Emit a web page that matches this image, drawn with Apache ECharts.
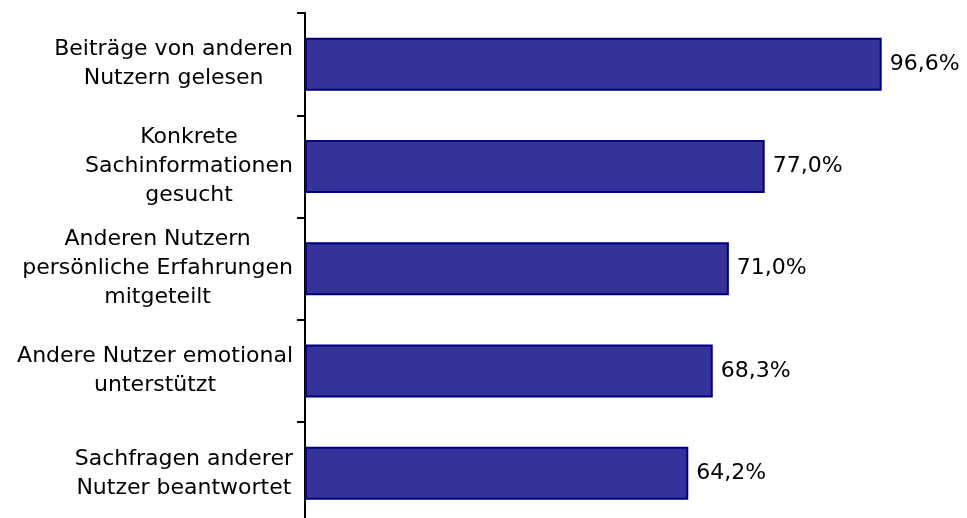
<!DOCTYPE html>
<html>
<head>
<meta charset="utf-8">
<script src="https://cdn.jsdelivr.net/npm/echarts@6/dist/echarts.min.js"></script>
<style>
html,body{margin:0;padding:0;background:#fff;}
#chart{width:967px;height:518px;}
</style>
</head>
<body>
<div id="chart"></div>
<script>
var categories = [
  "Beiträge von anderen\nNutzern gelesen",
  "Konkrete\nSachinformationen\ngesucht",
  "Anderen Nutzern\npersönliche Erfahrungen\nmitgeteilt",
  "Andere Nutzer emotional\nunterstützt",
  "Sachfragen anderer\nNutzer beantwortet"
];
var values = [96.6, 77.0, 71.0, 68.3, 64.2];
var axisMin = 0;
var axisMax = 100;

var chart = echarts.init(document.getElementById('chart'));
chart.setOption({
  animation: false,
  backgroundColor: '#ffffff',
  grid: { left: 305, top: 13, width: 597, height: 511.5, outerBoundsMode: 'none', containLabel: false },
  xAxis: {
    type: 'value', min: axisMin, max: axisMax, show: false
  },
  yAxis: {
    type: 'category',
    data: categories,
    inverse: true,
    axisLine: { show: true, lineStyle: { color: '#000', width: 2 } },
    axisTick: { show: true, length: 8, lineStyle: { color: '#000', width: 2 } },
    splitLine: { show: false },
    axisLabel: {
      margin: 12,
      fontFamily: 'DejaVu Sans',
      fontSize: 22,
      color: '#000',
      align: 'right',
      lineHeight: 29,
      formatter: function (v) {
        return v.split('\n').map(function (l) { return '{c|' + l + '}'; }).join('\n');
      },
      rich: {
        c: { align: 'center', fontFamily: 'DejaVu Sans', fontSize: 22, lineHeight: 29, color: '#000' }
      }
    }
  },
  series: [{
    type: 'bar',
    data: values,
    barWidth: 53,
    itemStyle: { color: '#333399', borderColor: '#000080', borderWidth: 2 },
    label: {
      show: true,
      position: 'right',
      distance: 8,
      fontFamily: 'DejaVu Sans',
      fontSize: 22,
      color: '#000',
      formatter: function (p) { return p.value.toFixed(1).replace('.', ',') + '%'; }
    }
  }]
});
</script>
</body>
</html>
